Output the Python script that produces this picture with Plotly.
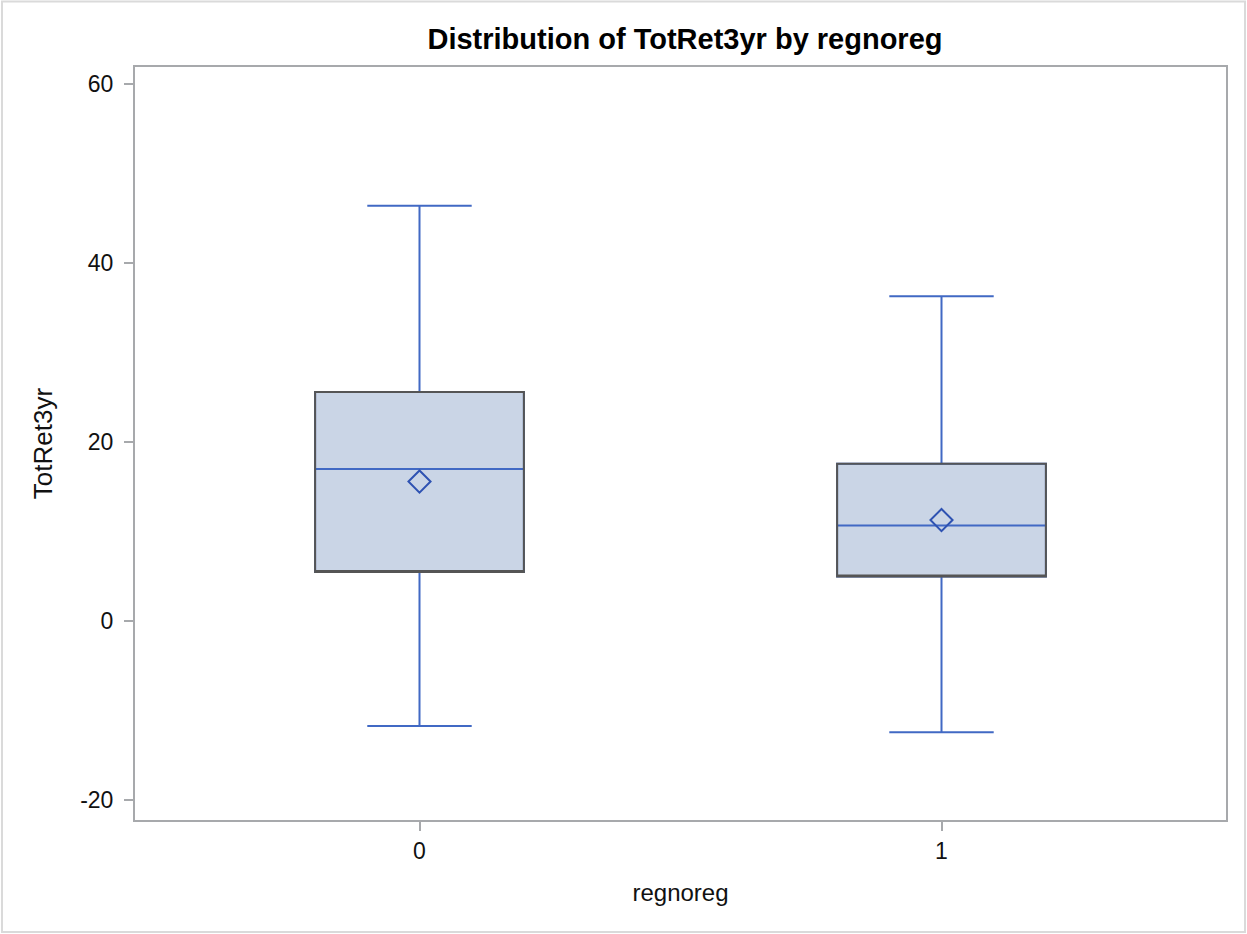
import plotly.graph_objects as go

# Data
categories = [0, 1]
q1_vals = [5.5, 5.0]
median_vals = [17.0, 10.7]
q3_vals = [25.6, 17.6]
lower_whisker = [-11.7, -12.4]
upper_whisker = [46.4, 36.3]
mean_vals = [15.6, 11.3]
y_ticks = [-20, 0, 20, 40, 60]
y_tick_labels = ["-20", "0", "20", "40", "60"]

W, H = 1247, 934
ML, MR, MT, MB = 135, 21, 67, 114

FILL = "#CAD5E6"
BLUE = "#4169C4"
DARKBLUE = "#2E52B2"
EDGE = "#555555"
AXIS = "#A7A9AC"
FONT = "Liberation Sans, Arial, sans-serif"

fig = go.Figure()

# whiskers + median + fill
fig.add_trace(go.Box(
    x=categories, q1=q1_vals, median=median_vals, q3=q3_vals,
    lowerfence=lower_whisker, upperfence=upper_whisker,
    width=0.4, whiskerwidth=0.5, fillcolor=FILL,
    line=dict(color=BLUE, width=2), boxpoints=False,
    showlegend=False, hoverinfo="skip"))

# dark box outline overlay
fig.add_trace(go.Box(
    x=categories, q1=q1_vals, median=q1_vals, q3=q3_vals,
    lowerfence=q1_vals, upperfence=q3_vals,
    width=0.4, whiskerwidth=0, fillcolor="rgba(0,0,0,0)",
    line=dict(color=EDGE, width=2), boxpoints=False,
    showlegend=False, hoverinfo="skip"))

# means
fig.add_trace(go.Scatter(
    x=categories, y=mean_vals, mode="markers",
    marker=dict(symbol="diamond-open", size=17, color=DARKBLUE,
                line=dict(width=2, color=DARKBLUE)),
    showlegend=False))

pw = W - ML - MR
ph = H - MT - MB

fig.update_layout(
    width=W, height=H,
    margin=dict(l=ML, r=MR, t=MT, b=MB),
    paper_bgcolor="white", plot_bgcolor="white",
    boxmode="overlay",
    font=dict(family=FONT, size=23, color="#111111"),
    title=dict(text="<b>Distribution of TotRet3yr by regnoreg</b>",
               x=(425 + 945) / 2 / W, xanchor="center",
               y=1 - 39 / H, yanchor="middle", yref="container",
               font=dict(family=FONT, size=29, color="#000000")),
    xaxis=dict(range=[-0.545, 1.545], tickvals=categories,
               ticktext=[str(c) for c in categories],
               ticks="outside", ticklen=9, tickwidth=2, tickcolor=AXIS,
               showline=True, linecolor=AXIS, linewidth=2, mirror=True,
               showgrid=False, zeroline=False,
               tickfont=dict(size=23),
               title=dict(text="regnoreg", font=dict(size=24), standoff=22)),
    yaxis=dict(range=[-22.2, 61.9], tickvals=y_ticks, ticktext=y_tick_labels,
               ticks="outside", ticklen=9, tickwidth=2, tickcolor=AXIS,
               ticklabelstandoff=6,
               showline=True, linecolor=AXIS, linewidth=2, mirror=True,
               showgrid=False, zeroline=False,
               tickfont=dict(size=23),
               title=dict(text="TotRet3yr", font=dict(size=26), standoff=20)),
    shapes=[dict(type="rect", xref="paper", yref="paper",
                 x0=-(ML - 2) / pw, x1=1 + (MR - 2) / pw,
                 y0=-(MB - 2) / ph, y1=1 + (MT - 1.5) / ph,
                 line=dict(color="#DADADA", width=2), layer="below")],
)

fig.write_html("out.html")
